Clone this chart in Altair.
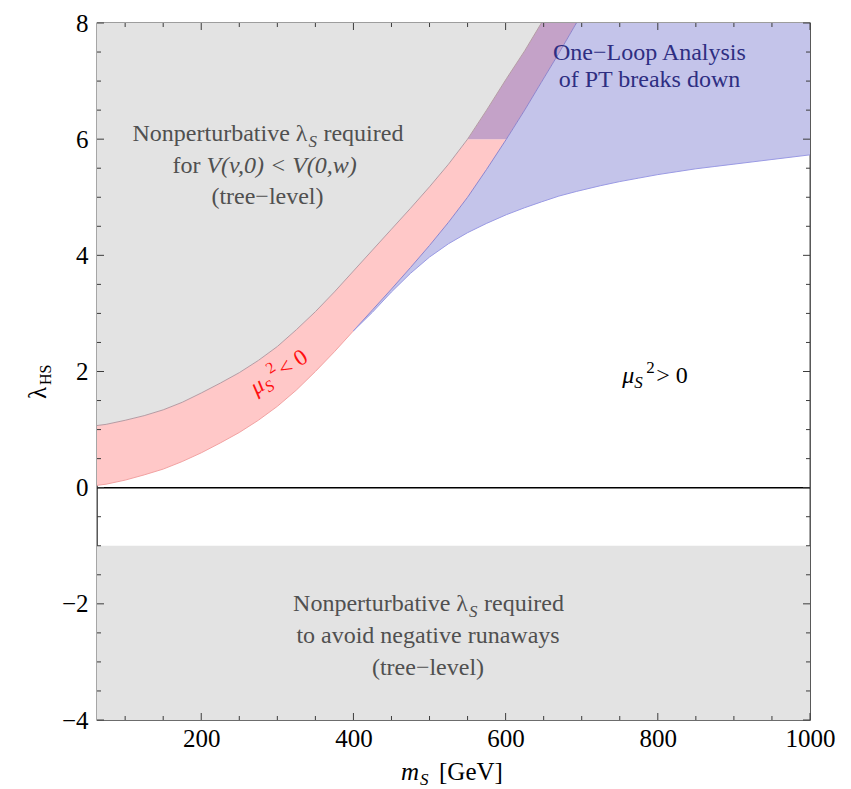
import altair as alt
import pandas as pd

# ---------------- data ----------------
m_grid = [63, 75, 100, 125, 150, 175, 200, 225, 250, 275, 300, 325, 350, 375, 400, 425, 450, 475,
          500, 525, 550, 575, 601, 625, 647, 670, 693, 725, 750, 775, 800, 825, 850, 875, 900, 925,
          950, 975, 1000]
# boundary of the grey "nonperturbative lambda_S" region (upper edge of the red band)
upper_edge = [1.07, 1.09, 1.16, 1.24, 1.34, 1.47, 1.63, 1.80, 1.98, 2.19, 2.43, 2.72, 3.03, 3.37, 3.73,
              4.09, 4.45, 4.81, 5.18, 5.57, 6.00, 6.50, 7.04, 7.52, 8.00,
              None, None, None, None, None, None, None, None, None, None, None, None, None, None]
# lower edge of the red (mu_S^2 < 0) band
lower_edge = [0.04, 0.06, 0.13, 0.22, 0.32, 0.45, 0.60, 0.77, 0.95, 1.16, 1.40, 1.68, 2.00, 2.34, 2.70,
              3.06, 3.42, 3.79, 4.17, 4.57, 5.00, 5.48, 6.00, 6.50, 6.98, 7.48, 8.00,
              None, None, None, None, None, None, None, None, None, None, None, None]
# lower edge of the blue "one-loop analysis breaks down" region
oneloop_edge = [None, None, None, None, None, None, None, None, None, None, None, None, None, None, 2.70,
                3.02, 3.37, 3.69, 3.97, 4.20, 4.39, 4.55, 4.70, 4.82, 4.92, 5.02, 5.10, 5.20, 5.27,
                5.33, 5.39, 5.44, 5.49, 5.53, 5.57, 5.61, 5.65, 5.69, 5.73]

runaway_band = [-4.0, -1.0]
zero_level = [0.0]
pt_cut = 6.0
lam_top = 8.0

x_major = [200, 400, 600, 800, 1000]
x_minor = [100, 150, 250, 300, 350, 450, 500, 550, 650, 700, 750, 850, 900, 950]
y_major = [-4, -2, 0, 2, 4, 6, 8]
y_minor = [-3.5, -3, -2.5, -1.5, -1, -0.5, 0.5, 1, 1.5, 2.5, 3, 3.5, 4.5, 5, 5.5, 6.5, 7, 7.5]

# annotation anchors (m_S, lambda_HS)
top_block = {"m": 287, "lams": [5.96, 5.41, 4.89]}
bot_block = {"m": 498, "lams": [-2.13, -2.68, -3.22]}
loop_block = {"m": 789, "lams": [7.37, 6.89]}
pos_label = {"m": 798, "lam": 1.81}
neg_label = {"m": 312, "lam": 1.93}

W, H = 713, 697
SERIF = "Liberation Serif"
GREY_FILL = "#e3e3e3"
PINK_FILL = "#ffc8c8"
BLUE_FILL = "#c4c4ea"
PURPLE_FILL = "#c4a2c8"
GREY_TXT = "#505050"
BLUE_TXT = "#2e2e82"

xs = alt.Scale(domain=[63, 1000], nice=False, zero=False)
ys = alt.Scale(domain=[-4, 8], nice=False, zero=False)
xaxis = alt.Axis(values=x_major, format="d", labelPadding=6, title=None, labelFlush=False)
yaxis = alt.Axis(values=y_major, format="d", labelPadding=9, title=None, labelFlush=False)

df = pd.DataFrame({"m": m_grid, "up": upper_edge, "lo": lower_edge, "bl": oneloop_edge}).astype(float)

grey_top = df[df.up.notna()].copy()
grey_top["y"] = grey_top.up
grey_top["y2"] = lam_top

pink = df[df.m <= 601].copy()
pink["y"] = pink.lo
pink["y2"] = pink.up.clip(upper=pt_cut)

purple = df[(df.m >= 550) & (df.m <= 693)].copy()
purple["y"] = purple.lo.clip(lower=pt_cut)
purple["y2"] = purple.up.fillna(lam_top).clip(upper=lam_top)

blue = df[df.bl.notna()].copy()
blue["y"] = blue.bl
blue["y2"] = blue.lo.fillna(lam_top).clip(upper=lam_top)


def X(field="m"):
    return alt.X(f"{field}:Q", scale=xs, axis=xaxis)


def Y(field):
    return alt.Y(f"{field}:Q", scale=ys, axis=yaxis)


def area(d, color):
    return alt.Chart(d).mark_area(color=color, opacity=1, interpolate="linear", clip=True).encode(
        x=X(), y=Y("y"), y2="y2:Q")


band = alt.Chart(pd.DataFrame({"x": [63], "x2": [1000], "y": [runaway_band[0]], "y2": [runaway_band[1]]})).mark_rect(
    color=GREY_FILL).encode(x=X("x"), x2="x2:Q", y=Y("y"), y2="y2:Q")

layers = [band,
          area(grey_top, GREY_FILL), area(pink, PINK_FILL), area(purple, PURPLE_FILL), area(blue, BLUE_FILL)]


def line(d, field, color, w=1.0):
    return alt.Chart(d).mark_line(color=color, strokeWidth=w, interpolate="linear", clip=True).encode(
        x=X(), y=Y(field))


layers += [
    line(df[df.up.notna()], "up", "#b49ca4"),
    line(df[df.m <= 400], "lo", "#f2a2a2"),
    line(df[(df.m >= 400) & df.lo.notna()], "lo", "#8e84cc"),
    line(df[df.bl.notna()], "bl", "#9a9ae4"),
    alt.Chart(pd.DataFrame({"y": zero_level})).mark_rule(color="black", strokeWidth=1.5).encode(y=Y("y")),
]

# ---- inward frame ticks ----
TK = "#3c3c3c"


def xticks(vals, length):
    d = pd.DataFrame({"m": vals})
    b = alt.Chart(d).mark_rule(color=TK, strokeWidth=1).encode(x=X(), y=alt.value(H), y2=alt.value(H - length))
    t = alt.Chart(d).mark_rule(color=TK, strokeWidth=1).encode(x=X(), y=alt.value(0), y2=alt.value(length))
    return [b, t]


def yticks(vals, length):
    d = pd.DataFrame({"v": vals})
    l = alt.Chart(d).mark_rule(color=TK, strokeWidth=1).encode(y=Y("v"), x=alt.value(0), x2=alt.value(length))
    r = alt.Chart(d).mark_rule(color=TK, strokeWidth=1).encode(y=Y("v"), x=alt.value(W), x2=alt.value(W - length))
    return [l, r]


layers += xticks(x_major, 7) + xticks(x_minor, 4) + yticks(y_major, 7) + yticks(y_minor, 4)


# ---- text pieces ----
def piece(m, lam, text, size=24, color=GREY_TXT, align="center", dx=0, dy=0, italic=False, angle=0):
    kw = dict(font=SERIF, fontSize=size, color=color, align=align, baseline="alphabetic", dx=dx, dy=dy)
    if italic:
        kw["fontStyle"] = "italic"
    if angle:
        kw["angle"] = angle
    return alt.Chart(pd.DataFrame({"m": [m], "lam": [lam], "t": [text]})).mark_text(**kw).encode(
        x=X(), y=Y("lam"), text="t:N")


tm, tl = top_block["m"], top_block["lams"]
layers += [
    piece(tm, tl[0], "Nonperturbative λ", align="right", dx=40),
    piece(tm, tl[0], "S", size=17, align="left", dx=41, dy=6, italic=True),
    piece(tm, tl[0], "required", align="left", dx=56),
    piece(tm, tl[1], "for", align="right", dx=-67),
    piece(tm, tl[1], "V(v,0) < V(0,w)", align="left", dx=-61, italic=True),
    piece(tm, tl[2], "(tree\u2212level)"),
]
bm, bl_ = bot_block["m"], bot_block["lams"]
layers += [
    piece(bm, bl_[0], "Nonperturbative λ", align="right", dx=40),
    piece(bm, bl_[0], "S", size=17, align="left", dx=41, dy=6, italic=True),
    piece(bm, bl_[0], "required", align="left", dx=56),
    piece(bm, bl_[1], "to avoid negative runaways"),
    piece(bm, bl_[2], "(tree\u2212level)"),
]
lm, ll = loop_block["m"], loop_block["lams"]
layers += [
    piece(lm, ll[0], "One\u2212Loop Analysis", color=BLUE_TXT),
    piece(lm, ll[1], "of PT breaks down", color=BLUE_TXT),
]
pm, pl = pos_label["m"], pos_label["lam"]
layers += [
    piece(pm, pl, "μ", color="black", align="left", dx=-34, italic=True),
    piece(pm, pl, "S", size=17, color="black", align="left", dx=-22, dy=5, italic=True),
    piece(pm, pl, "2", size=17, color="black", align="left", dx=-10, dy=-10),
    piece(pm, pl, "> 0", color="black", align="left", dx=0),
]
nm, nl = neg_label["m"], neg_label["lam"]
RED = "#ff1010"
ANG = 327
layers += [
    piece(nm, nl, "μ", size=23, color=RED, align="left", dx=-36, italic=True, angle=ANG),
    piece(nm, nl, "S", size=16, color=RED, align="left", dx=-24, dy=5, italic=True, angle=ANG),
    piece(nm, nl, "2", size=16, color=RED, align="left", dx=-13, dy=-10, angle=ANG),
    piece(nm, nl, "< 0", size=23, color=RED, align="left", dx=-3, angle=ANG),
]


# ---- axis titles ----
def ptext(x, y, text, size=25, italic=False, align="left", dy=0, angle=0):
    kw = dict(font=SERIF, fontSize=size, color="black", align=align, baseline="alphabetic", dy=dy)
    if italic:
        kw["fontStyle"] = "italic"
    if angle:
        kw["angle"] = angle
    return alt.Chart(pd.DataFrame({"t": [text]})).mark_text(**kw).encode(
        x=alt.value(x), y=alt.value(y), text="t:N")


layers += [
    ptext(304, 757, "m", italic=True),
    ptext(323, 757, "S", size=17, italic=True, dy=5),
    ptext(342, 757, "[GeV]"),
    ptext(-51, 376, "λ", angle=270),
    alt.Chart(pd.DataFrame({"t": ["HS"]})).mark_text(
        font=SERIF, fontSize=16, color="black", align="left", baseline="alphabetic", dx=14, dy=5, angle=270
    ).encode(x=alt.value(-51), y=alt.value(376), text="t:N"),
]

chart = alt.layer(*layers).properties(
    width=W, height=H,
    autosize=alt.AutoSizeParams(type="none"),
    padding={"left": 97, "top": 23, "right": 851 - 97 - W, "bottom": 789 - 23 - H},
    background="white",
).configure_view(stroke="#3c3c3c", strokeWidth=1.3).configure_axis(
    labelFont=SERIF, labelFontSize=25, labelColor="black", ticks=False, domain=False, grid=False, tickSize=0
)

chart.save("out.html", embed_options={"renderer": "svg", "actions": False})
